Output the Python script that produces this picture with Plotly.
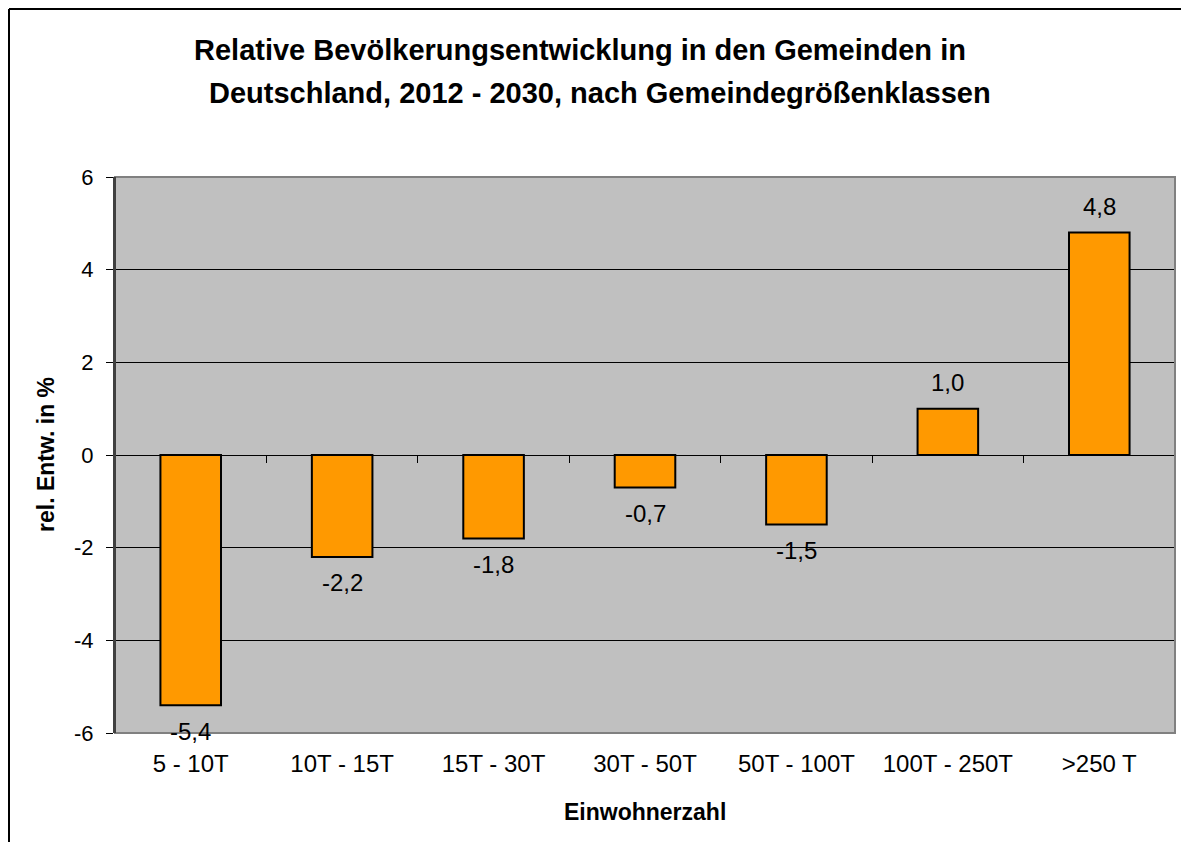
import plotly.graph_objects as go

categories = ["5 - 10T", "10T - 15T", "15T - 30T", "30T - 50T", "50T - 100T", "100T - 250T", ">250 T"]
values = [-5.4, -2.2, -1.8, -0.7, -1.5, 1.0, 4.8]
labels = [f"{v:.1f}".replace(".", ",") for v in values]
y_ticks = [-6, -4, -2, 0, 2, 4, 6]
title_lines = ["Relative Bevölkerungsentwicklung in den Gemeinden in",
               "Deutschland, 2012 - 2030, nach Gemeindegrößenklassen"]

FONT = "Liberation Sans, Arial, sans-serif"

W, H = 1173, 834
ML, MR, MT, MB = 107, 6, 169, 109
PW, PH = W - ML - MR, H - MT - MB

fig = go.Figure()
fig.add_trace(go.Bar(
    x=categories, y=values, width=0.4,
    marker=dict(color="#FF9900", line=dict(color="black", width=2)),
    showlegend=False, hoverinfo="skip",
))
# invisible trace carrying the zero-line category boundary ticks
fig.add_trace(go.Scatter(x=[0, len(categories) - 1], y=[0, 0], xaxis="x2",
                         mode="markers", marker=dict(opacity=0), showlegend=False, hoverinfo="skip"))

for c, v, t in zip(categories, values, labels):
    fig.add_annotation(x=c, y=v, text=t, showarrow=False, yshift=26 if v > 0 else -26,
                       font=dict(family=FONT, size=24, color="black"))

# title lines
title_x = [(580 - 115) / PW, (600 - 115) / PW]
for i, line in enumerate(title_lines):
    fig.add_annotation(xref="paper", yref="paper", x=title_x[i], y=(733 - 50 - 43 * i) / PH,
                       text=line, showarrow=False, xanchor="center", yanchor="middle",
                       font=dict(family=FONT, size=29, color="black", weight="bold"))

# axis titles
fig.add_annotation(xref="paper", yref="paper", x=0.5, y=(733 - 812) / PH, text="Einwohnerzahl",
                   showarrow=False, xanchor="center", yanchor="middle",
                   font=dict(family=FONT, size=23, color="black", weight="bold"))
fig.add_annotation(xref="paper", yref="paper", x=(46 - 115) / PW, y=0.5, text="rel. Entw. in %",
                   showarrow=False, textangle=-90, xanchor="center", yanchor="middle",
                   font=dict(family=FONT, size=23, color="black", weight="bold"))

# outer chart frame (left and top edges), kept inside the figure
bx0 = (1 - ML) / PW
bx1 = (W - ML) / PW
by1 = 1 + (MT - 1) / PH
by0 = -MB / PH

fig.update_layout(
    width=W, height=H,
    margin=dict(l=ML, r=MR, t=MT, b=MB),
    paper_bgcolor="white", plot_bgcolor="#C0C0C0",
    xaxis=dict(type="category", showgrid=False, zeroline=False, showline=False,
               ticks="", ticklabelstandoff=14, tickfont=dict(family=FONT, size=24, color="black"),
               range=[-0.5, len(categories) - 0.5]),
    xaxis2=dict(overlaying="x", anchor="free", position=0.5, side="bottom",
                range=[-0.5, len(categories) - 0.5], tickvals=[i + 0.5 for i in range(len(categories) - 1)],
                ticks="outside", ticklen=7, tickcolor="black", tickwidth=1,
                showticklabels=False, showgrid=False, zeroline=False, showline=False),
    yaxis=dict(range=[-6, 6], tickvals=y_ticks, ticktext=[str(v) for v in y_ticks],
               showgrid=True, gridcolor="black", gridwidth=1,
               zeroline=True, zerolinecolor="black", zerolinewidth=1,
               showline=True, linecolor="#404040", linewidth=2,
               ticks="outside", ticklen=7, tickcolor="black", ticklabelstandoff=8,
               tickfont=dict(family=FONT, size=22, color="black")),
    shapes=[
        dict(type="rect", xref="paper", yref="paper", x0=0, x1=1, y0=0, y1=1,
             line=dict(color="#808080", width=2), layer="above"),
        dict(type="line", xref="paper", yref="paper", x0=0, x1=0, y0=0, y1=1,
             line=dict(color="#404040", width=2), layer="above"),
        dict(type="line", xref="paper", yref="paper", x0=bx0, x1=bx0, y0=by0, y1=by1,
             line=dict(color="black", width=2), layer="above"),
        dict(type="line", xref="paper", yref="paper", x0=bx0, x1=bx1, y0=by1, y1=by1,
             line=dict(color="black", width=2), layer="above"),
    ],
)

fig.write_html("out.html")
